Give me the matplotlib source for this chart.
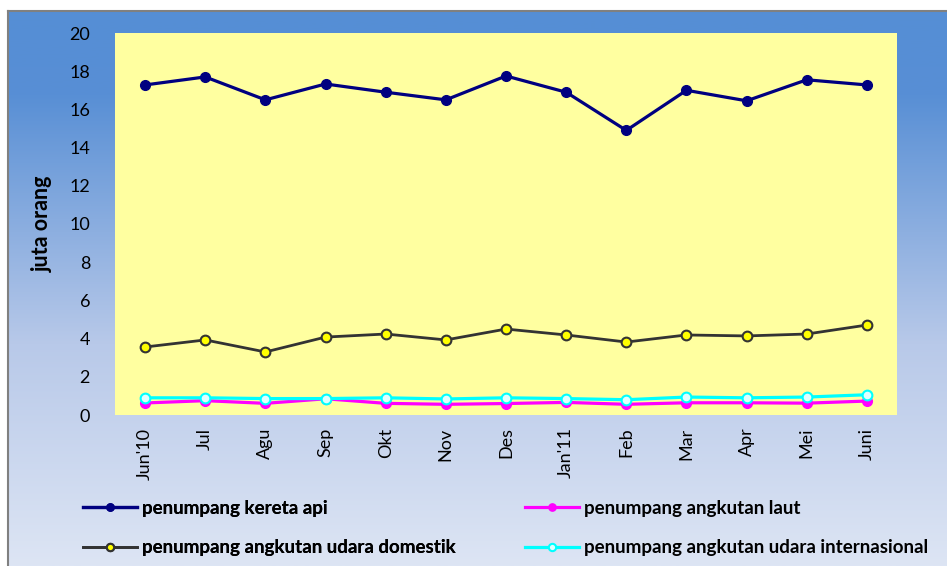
import numpy as np
import matplotlib
matplotlib.use("Agg")
import matplotlib.pyplot as plt
from matplotlib.colors import LinearSegmentedColormap

months = ["Jun'10", "Jul", "Agu", "Sep", "Okt", "Nov", "Des", "Jan'11", "Feb", "Mar", "Apr", "Mei", "Juni"]
kereta_api = [17.28, 17.7, 16.5, 17.33, 16.9, 16.5, 17.75, 16.9, 14.9, 17.0, 16.45, 17.55, 17.28]
udara_domestik = [3.56, 3.93, 3.3, 4.08, 4.24, 3.93, 4.5, 4.19, 3.82, 4.19, 4.14, 4.24, 4.71]
angkutan_laut = [0.63, 0.75, 0.61, 0.85, 0.61, 0.56, 0.6, 0.66, 0.56, 0.64, 0.64, 0.62, 0.73]
udara_internasional = [0.9, 0.9, 0.86, 0.86, 0.9, 0.84, 0.9, 0.86, 0.8, 0.94, 0.9, 0.94, 1.06]
yticks = list(range(0, 21, 2))

plt.rcParams['font.family'] = ['Lato', 'DejaVu Sans']

W, H = 947, 566
fig = plt.figure(figsize=(W / 100, H / 100), dpi=100)
fig.patch.set_facecolor('white')

# background gradient panel
bx0, by1 = 8 / W, 1 - 11 / H
bg = fig.add_axes([bx0, 0, 1 - bx0, by1], zorder=-10)
cmap = LinearSegmentedColormap.from_list(
    'bg', [(0, '#558ed5'), (0.15, '#588fd5'), (0.6, '#b8c9e9'), (1.0, '#dde5f4')])
grad = np.linspace(0, 1, 256).reshape(-1, 1)
bg.imshow(grad, aspect='auto', cmap=cmap, extent=[0, 1, 0, 1], origin='upper')
bg.set_xlim(0, 1)
bg.set_ylim(0, 1)
bg.axis('off')
fig.add_artist(plt.Line2D([bx0, bx0], [0, by1], color='#808080', lw=1.5, transform=fig.transFigure))
fig.add_artist(plt.Line2D([bx0, 1], [by1, by1], color='#808080', lw=1.5, transform=fig.transFigure))

ax = fig.add_axes([115 / W, 1 - 415 / H, (897 - 115) / W, (415 - 33) / H])
ax.set_facecolor('#ffffa0')
x = np.arange(len(months))

ax.plot(x, kereta_api, color='#000080', lw=2.3, marker='o', ms=7,
        mfc='#000080', mec='#000080', label='penumpang kereta api', zorder=5)
ax.plot(x, angkutan_laut, color='#ff00ff', lw=2.3, marker='o', ms=7,
        mfc='#ff00ff', mec='#ff00ff', label='penumpang angkutan laut', zorder=3)
ax.plot(x, udara_domestik, color='#333333', lw=2.0, marker='o', ms=7,
        mfc='#ffff00', mec='#333333', mew=1.5, label='penumpang angkutan udara domestik', zorder=4)
ax.plot(x, udara_internasional, color='#00ffff', lw=2.3, marker='o', ms=7,
        mfc='#e0ffff', mec='#00ffff', mew=1.5, label='penumpang angkutan udara internasional', zorder=4)

ax.set_xlim(-0.5, len(months) - 0.5)
ax.set_ylim(0, 20)
ax.set_yticks(yticks)
ax.set_yticklabels([str(t) for t in yticks], fontsize=13)
ax.set_xticks(x)
ax.set_xticklabels(months, rotation=90, fontsize=13)
ax.tick_params(length=0)
ax.tick_params(axis='x', pad=9)
ax.tick_params(axis='y', pad=18)
for s in ax.spines.values():
    s.set_visible(False)
ax.set_ylabel('juta orang', fontsize=15.5, fontweight='bold', labelpad=12)

handles, labels = ax.get_legend_handles_labels()
common = dict(frameon=False, prop={'weight': 'bold', 'size': 13.5},
              handlelength=2.9, handletextpad=0.25, labelspacing=1.2,
              borderpad=0, borderaxespad=0, markerscale=0.75)
leg1 = fig.legend([handles[0], handles[2]], [labels[0], labels[2]],
                  loc='center left', bbox_to_anchor=(83 / W, 1 - 528 / H), **common)
fig.add_artist(leg1)
leg2 = fig.legend([handles[1], handles[3]], [labels[1], labels[3]],
                  loc='center left', bbox_to_anchor=(525 / W, 1 - 528 / H), **common)

fig.savefig('out.png', dpi=100)
